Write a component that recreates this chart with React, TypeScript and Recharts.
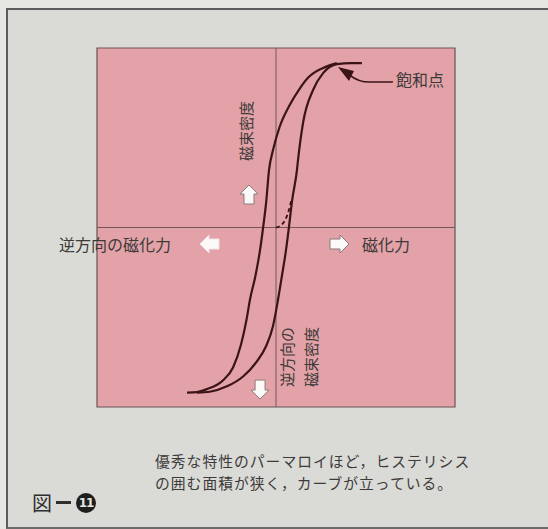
import { LineChart, Line, XAxis, YAxis, ReferenceArea, ReferenceLine, ReferenceDot } from "recharts"

// magnetizing force H (x) and flux density B (y), both normalised to -1..1
const descendingH = [-0.497, -0.44, -0.385, -0.3, -0.24, -0.195, -0.165, -0.145, -0.115, -0.089, -0.072, -0.055, -0.039, -0.017, 0.02, 0.075, 0.13, 0.18, 0.263, 0.34]
const descendingB = [-0.92, -0.917, -0.9, -0.855, -0.78, -0.65, -0.515, -0.4, -0.27, -0.125, 0, 0.14, 0.32, 0.43, 0.56, 0.68, 0.77, 0.835, 0.889, 0.916]
const ascendingH = [-0.44, -0.37, -0.274, -0.184, -0.11, -0.055, -0.017, 0.011, 0.033, 0.056, 0.072, 0.09, 0.117, 0.123, 0.151, 0.207, 0.263, 0.341, 0.42, 0.48]
const ascendingB = [-0.92, -0.915, -0.885, -0.83, -0.75, -0.66, -0.55, -0.404, -0.27, -0.125, 0, 0.15, 0.32, 0.376, 0.582, 0.766, 0.86, 0.91, 0.916, 0.916]
const initialH = [0, 0.025, 0.05, 0.07, 0.085]
const initialB = [0, 0.01, 0.04, 0.09, 0.15]

const axisLabelLeft = "逆方向の磁化力"
const axisLabelRight = "磁化力"
const axisLabelUp = "磁束密度"
const axisLabelDown = ["逆方向の", "磁束密度"]
const saturationLabel = "飽和点"
const captionLines = ["優秀な特性のパーマロイほど，ヒステリシス", "の囲む面積が狭く，カーブが立っている。"]

const toRows = (h: number[], b: number[]) => h.map((x, i) => ({ h: x, b: b[i] }))
const descending = toRows(descendingH, descendingB)
const ascending = toRows(ascendingH, ascendingB)
const initial = toRows(initialH, initialB)

const jp = "'Noto Sans CJK JP', 'Noto Sans', sans-serif"
const ink = "#3a1417"
const textInk = "#3d3a3a"

function PlainLabel({ cx, cy, text }: any) {
  return (
    <text x={cx} y={cy} textAnchor="middle" dominantBaseline="central" fontFamily={jp} fontSize={16} fill={textInk}>
      {text}
    </text>
  )
}

function SideLabel({ cx, cy, lines }: any) {
  const gap = 24
  const start = -((lines.length - 1) * gap) / 2
  return (
    <g transform={`rotate(-90 ${cx} ${cy})`}>
      {lines.map((l: string, i: number) => (
        <text key={i} x={cx} y={cy + start + i * gap} textAnchor="middle" dominantBaseline="central" fontFamily={jp} fontSize={15} fill={textInk}>
          {l}
        </text>
      ))}
    </g>
  )
}

function BlockArrow({ cx, cy, angle, soft }: any) {
  return (
    <path
      transform={`translate(${cx} ${cy}) rotate(${angle})`}
      d="M0,-10 L9,-1 L5,-1 L5,9 L-5,9 L-5,-1 L-9,-1 Z"
      fill="#fbf8f8"
      stroke={soft ? "#efe6e7" : "#8c7b7d"}
      strokeWidth={1}
    />
  )
}

function Pointer({ cx, cy }: any) {
  return (
    <g>
      <path d={`M${cx},${cy} L${cx + 16},${cy + 4} L${cx + 11},${cy + 14} Z`} fill={ink} />
      <path d={`M${cx + 12},${cy + 8} Q${cx + 20},${cy + 15} ${cx + 32},${cy + 15} L${cx + 55},${cy + 15}`} fill="none" stroke={ink} strokeWidth={1.6} />
    </g>
  )
}

export default function App() {
  return (
    <div style={{ position: "absolute", left: 0, top: 0, width: 548, height: 529, background: "#e6e6e3", overflow: "hidden" }}>
      <div style={{ position: "absolute", left: 6, top: 8, width: 541, height: 517, background: "#dadad6", borderTop: "2px solid #5c5c5c", borderLeft: "2px solid #5c5c5c", borderBottom: "2px solid #6a6a6a", borderRight: "1px solid #9a9a9a" }} />
      <div style={{ position: "absolute", left: 0, top: 0 }}>
        <LineChart width={548} height={529} margin={{ top: 48, right: 93, bottom: 122, left: 97 }}>
          <XAxis dataKey="h" type="number" domain={[-1, 1]} hide allowDataOverflow />
          <YAxis dataKey="b" type="number" domain={[-1, 1]} hide allowDataOverflow />
          <ReferenceArea x1={-1} x2={1} y1={-1} y2={1} fill="#e3a2a8" fillOpacity={1} stroke="#6a5256" strokeWidth={1.2} />
          <ReferenceLine x={0} stroke="#74565a" strokeWidth={1} />
          <ReferenceLine y={0} stroke="#74565a" strokeWidth={1} />
          <Line data={descending} dataKey="b" type="monotone" stroke={ink} strokeWidth={2.2} dot={false} isAnimationActive={false} />
          <Line data={ascending} dataKey="b" type="monotone" stroke={ink} strokeWidth={2.2} dot={false} isAnimationActive={false} />
          <Line data={initial} dataKey="b" type="monotone" stroke={ink} strokeWidth={1.8} strokeDasharray="4 3" dot={false} isAnimationActive={false} />
          <ReferenceDot x={-0.168} y={0.538} ifOverflow="visible" shape={(p: any) => <SideLabel {...p} lines={[axisLabelUp]} />} />
          <ReferenceDot x={0.128} y={-0.721} ifOverflow="visible" shape={(p: any) => <SideLabel {...p} lines={axisLabelDown} />} />
          <ReferenceDot x={-0.9} y={-0.092} ifOverflow="visible" shape={(p: any) => <PlainLabel {...p} text={axisLabelLeft} />} />
          <ReferenceDot x={0.615} y={-0.092} ifOverflow="visible" shape={(p: any) => <PlainLabel {...p} text={axisLabelRight} />} />
          <ReferenceDot x={0.804} y={0.827} ifOverflow="visible" shape={(p: any) => <PlainLabel {...p} text={saturationLabel} />} />
          <ReferenceDot x={-0.151} y={0.181} ifOverflow="visible" shape={(p: any) => <BlockArrow {...p} angle={0} />} />
          <ReferenceDot x={-0.089} y={-0.9} ifOverflow="visible" shape={(p: any) => <BlockArrow {...p} angle={180} />} />
          <ReferenceDot x={-0.369} y={-0.092} ifOverflow="visible" shape={(p: any) => <BlockArrow {...p} angle={-90} soft />} />
          <ReferenceDot x={0.352} y={-0.092} ifOverflow="visible" shape={(p: any) => <BlockArrow {...p} angle={90} />} />
          <ReferenceDot x={0.346} y={0.894} ifOverflow="visible" shape={(p: any) => <Pointer {...p} />} />
        </LineChart>
      </div>
      <div style={{ position: "absolute", left: 155, top: 450, fontFamily: jp, fontSize: 14.8, letterSpacing: 1, lineHeight: "21.5px", color: textInk, whiteSpace: "nowrap" }}>
        {captionLines.map((l, i) => (
          <div key={i}>{l}</div>
        ))}
      </div>
      <div style={{ position: "absolute", left: 32, top: 488, display: "flex", alignItems: "center", fontFamily: jp, fontSize: 20, color: "#2e2e2e" }}>
        <span>図</span>
        <span style={{ display: "inline-block", width: 15, height: 2.5, background: "#2e2e2e", margin: "0 5px 0 4px" }} />
        <span style={{ display: "inline-flex", width: 20, height: 20, borderRadius: 10, background: "#1e1e1e", color: "#e6e6e3", fontSize: 12, fontWeight: 700, alignItems: "center", justifyContent: "center", fontFamily: "'DejaVu Sans', sans-serif", letterSpacing: -1 }}>11</span>
      </div>
    </div>
  )
}
